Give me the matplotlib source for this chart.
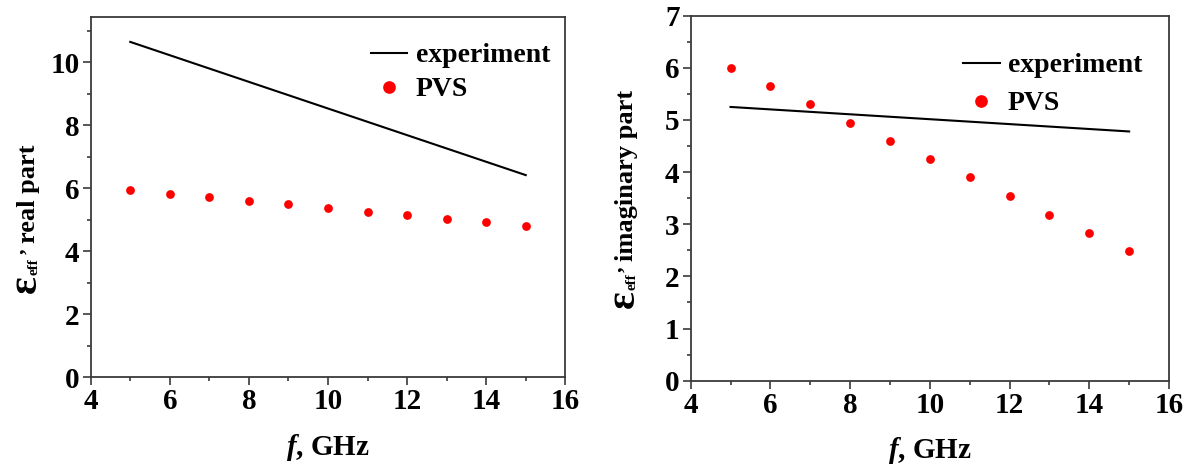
import matplotlib
matplotlib.use("Agg")
import matplotlib.pyplot as plt
from matplotlib.ticker import MultipleLocator
from matplotlib.transforms import IdentityTransform

plt.rcParams['font.family'] = ['Liberation Serif', 'DejaVu Serif']
plt.rcParams['font.weight'] = 'bold'
plt.rcParams['mathtext.fontset'] = 'custom'
plt.rcParams['mathtext.rm'] = 'Liberation Serif:bold'
plt.rcParams['mathtext.it'] = 'Liberation Serif:italic:bold'
plt.rcParams['mathtext.bf'] = 'Liberation Serif:bold'

# Data
freq = [5, 6, 7, 8, 9, 10, 11, 12, 13, 14, 15]
exp_freq = [5, 15]
real_exp = [10.65, 6.42]
real_pvs = [5.95, 5.83, 5.72, 5.60, 5.50, 5.38, 5.26, 5.15, 5.03, 4.92, 4.80]
imag_exp = [5.25, 4.78]
imag_pvs = [6.00, 5.65, 5.30, 4.95, 4.60, 4.25, 3.90, 3.55, 3.18, 2.83, 2.48]
series_labels = ['experiment', 'PVS']
ylabel_texts = ['real part', 'imaginary part']

W, H = 1192, 467
fig = plt.figure(figsize=(W / 100, H / 100), dpi=100)

def add_axes(l, r, b, t):
    return fig.add_axes([l / W, 1 - b / H, (r - l) / W, (b - t) / H])

ax1 = add_axes(90.7, 565.3, 377.3, 16.7)
ax2 = add_axes(690.7, 1169, 380.7, 15.7)

spine_col = '#3a3a3a'
tick_fs = 21
xlab_fs = 21
leg_fs = 20
ylab_fs = 19

def style(ax, ylim, ymaj, ymin):
    ax.set_xlim(4, 16)
    ax.set_ylim(*ylim)
    ax.xaxis.set_major_locator(MultipleLocator(2))
    ax.xaxis.set_minor_locator(MultipleLocator(1))
    ax.yaxis.set_major_locator(MultipleLocator(ymaj))
    ax.yaxis.set_minor_locator(MultipleLocator(ymin))
    for s in ax.spines.values():
        s.set_linewidth(1.3)
        s.set_color(spine_col)
    ax.tick_params(which='major', direction='out', length=6, width=1.2, color=spine_col,
                   labelsize=tick_fs, pad=2)
    ax.tick_params(which='minor', direction='out', length=3, width=1.2, color=spine_col)
    ax.tick_params(top=False, right=False, which='both')
    for lab in ax.get_xticklabels() + ax.get_yticklabels():
        lab.set_fontweight('bold')
    ax.set_xlabel(r'$\mathit{f}$, GHz', fontsize=xlab_fs, fontweight='bold', labelpad=12)

ax1.plot(exp_freq, real_exp, color='black', lw=1.5, label=series_labels[0])
ax1.plot(freq, real_pvs, 'o', color='red', ms=6.3, mec='none', label=series_labels[1])
style(ax1, (0, 11.45), 2, 1)

ax2.plot(exp_freq, imag_exp, color='black', lw=1.5, label=series_labels[0])
ax2.plot(freq, imag_pvs, 'o', color='red', ms=6.3, mec='none', label=series_labels[1])
style(ax2, (0, 7), 1, 0.5)

for ax, anchor, spacing in ((ax1, (0.968, 0.927), 0.3), (ax2, (0.944, 0.898), 0.45)):
    leg = ax.legend(loc='upper right', frameon=False, fontsize=leg_fs, markerscale=1.45,
                    handlelength=1.3, handletextpad=0.3, borderaxespad=0, borderpad=0,
                    bbox_to_anchor=anchor, labelspacing=spacing)
    for t in leg.get_texts():
        t.set_fontweight('bold')

# Composite rotated y-labels: large epsilon, small 'eff' subscript, raised comma, text
renderer = fig.canvas.get_renderer()

def rot_label(x_base, y_bottom_px, rest, comma_gap):
    pieces = [
        ('ε', 30, 1, 0),
        ('eff', 11, 3, comma_gap),
        (',', 16, -12, 6),
        (rest, ylab_fs, 0, 0),
    ]
    y = H - y_bottom_px
    for text, size, dx, gap in pieces:
        t = fig.text(x_base + dx, y, text, rotation=90, rotation_mode='anchor',
                     ha='left', va='baseline', fontsize=size, fontweight='bold',
                     transform=IdentityTransform())
        bb = t.get_window_extent(renderer)
        y = bb.y1 + gap

rot_label(35, 293, ylabel_texts[0], 4)
rot_label(633, 308, ylabel_texts[1], 1)

fig.savefig('out.png', dpi=100)
